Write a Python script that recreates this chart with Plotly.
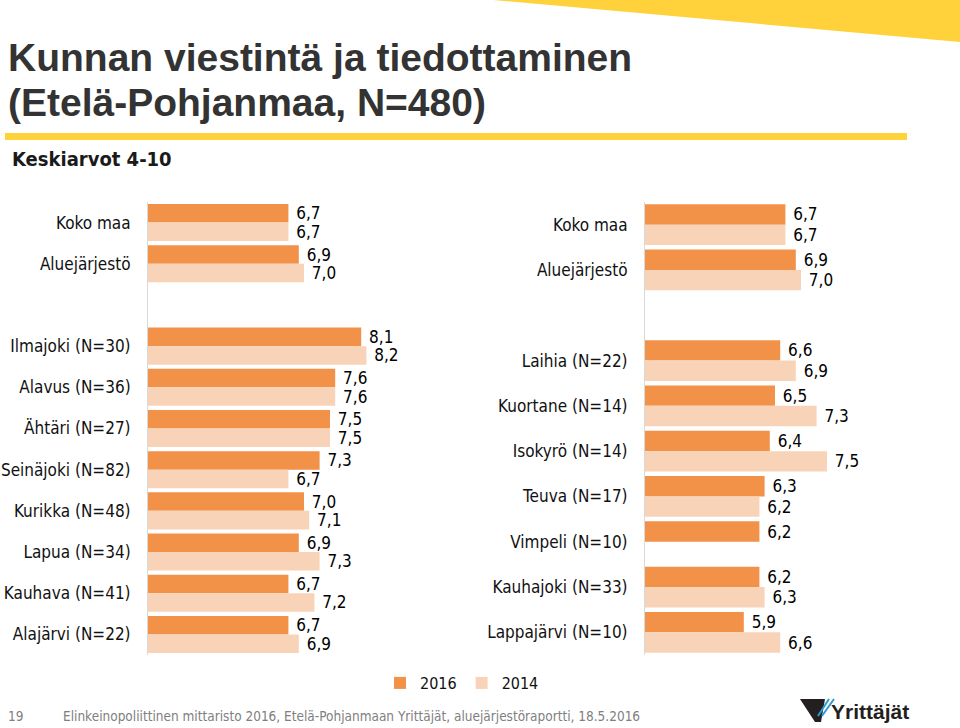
import plotly.graph_objects as go

# ---------------- data ----------------
left_categories = ["Koko maa", "Aluejärjestö", " ",
                   "Ilmajoki (N=30)", "Alavus (N=36)", "Ähtäri (N=27)",
                   "Seinäjoki (N=82)", "Kurikka (N=48)", "Lapua (N=34)",
                   "Kauhava (N=41)", "Alajärvi (N=22)"]
left_2016 = [6.7, 6.9, None, 8.1, 7.6, 7.5, 7.3, 7.0, 6.9, 6.7, 6.7]
left_2014 = [6.7, 7.0, None, 8.2, 7.6, 7.5, 6.7, 7.1, 7.3, 7.2, 6.9]

right_categories = ["Koko maa", "Aluejärjestö", " ",
                    "Laihia (N=22)", "Kuortane (N=14)", "Isokyrö (N=14)",
                    "Teuva (N=17)", "Vimpeli (N=10)", "Kauhajoki (N=33)",
                    "Lappajärvi (N=10)"]
right_2016 = [6.7, 6.9, None, 6.6, 6.5, 6.4, 6.3, 6.2, 6.2, 5.9]
right_2014 = [6.7, 7.0, None, 6.9, 7.3, 7.5, 6.2, None, 6.3, 6.6]

series_names = ["2016", "2014"]
axis_range = [4, 10]

# ---------------- styles ----------------
C2016 = "#F29148"
C2014 = "#F8D3B7"
FONT = "DejaVu Sans Condensed, DejaVu Sans, sans-serif"
TITLE_FONT = "Liberation Sans, Arial, sans-serif"
W, H = 960, 728


def px(x):
    return x / W


def py(y):
    return 1 - y / H


def lab(vals):
    return ["" if v is None else "\u00a0" + f"{v:.1f}".replace(".", ",") for v in vals]


fig = go.Figure()

for cats, v16, v14, xa, ya, show in [
    (left_categories, left_2016, left_2014, "x", "y", True),
    (right_categories, right_2016, right_2014, "x2", "y2", False),
]:
    for name, vals, col in [(series_names[0], v16, C2016), (series_names[1], v14, C2014)]:
        fig.add_trace(go.Bar(
            y=cats, x=vals, orientation="h", name=name,
            marker=dict(color=col, line=dict(width=0)),
            text=lab(vals), textposition="outside", constraintext="none",
            textfont=dict(family=FONT, size=17, color="#000000"),
            cliponaxis=False, xaxis=xa, yaxis=ya,
            showlegend=show, legendgroup=name, hoverinfo="skip",
        ))

ydom = [py(655), py(202)]
common_y = dict(type="category", autorange="reversed", showline=True,
                linecolor="#D9D9D9", linewidth=1, ticks="", showgrid=False,
                zeroline=False, ticklabelstandoff=13,
                tickfont=dict(family=FONT, size=17, color="#111111"))
common_x = dict(range=axis_range, visible=False, showgrid=False, zeroline=False)

fig.update_layout(
    width=W, height=H, margin=dict(l=0, r=0, t=0, b=0),
    paper_bgcolor="white", plot_bgcolor="white",
    barmode="group", bargap=0.1, bargroupgap=0,
    xaxis=dict(domain=[px(148), px(460)], anchor="y", **common_x),
    xaxis2=dict(domain=[px(645), px(957)], anchor="y2", **common_x),
    yaxis=dict(domain=ydom, anchor="x", categoryorder="array",
               categoryarray=left_categories, **common_y),
    yaxis2=dict(domain=ydom, anchor="x2", categoryorder="array",
                categoryarray=right_categories, **common_y),
    legend=dict(orientation="h", x=px(462), xanchor="center", y=py(683),
                yanchor="middle", font=dict(family=FONT, size=16, color="#111111"),
                itemwidth=30, traceorder="normal"),
    showlegend=True,
)

# decorative shapes
fig.add_shape(type="rect", xref="paper", yref="paper", x0=px(5), x1=px(907),
              y0=py(140), y1=py(133), fillcolor="#FFD23C", line=dict(width=0), layer="below")
fig.add_shape(type="path", xref="paper", yref="paper",
              path=f"M {px(493)} {py(0)} L {px(960)} {py(0)} L {px(960)} {py(42)} Z",
              fillcolor="#FFD23C", line=dict(width=0), layer="below")
# logo mark
fig.add_shape(type="path", xref="paper", yref="paper",
              path=f"M {px(800)} {py(699)} L {px(825)} {py(699)} L {px(821)} {py(722)} L {px(815)} {py(722)} Z",
              fillcolor="#231F20", line=dict(width=0))
for x0, x1 in [(829, 818), (834, 822)]:
    fig.add_shape(type="line", xref="paper", yref="paper",
                  x0=px(x0), y0=py(699), x1=px(x1), y1=py(716),
                  line=dict(color="#2E9AD0", width=2))

# texts
fig.add_annotation(text="<b>Kunnan viestintä ja tiedottaminen</b>", xref="paper", yref="paper",
                   x=px(6), y=py(58), xanchor="left", yanchor="middle", showarrow=False,
                   font=dict(family=TITLE_FONT, size=39, color="#333333"))
fig.add_annotation(text="<b>(Etelä-Pohjanmaa, N=480)</b>", xref="paper", yref="paper",
                   x=px(6), y=py(103), xanchor="left", yanchor="middle", showarrow=False,
                   font=dict(family=TITLE_FONT, size=39, color="#333333"))
fig.add_annotation(text="<b>Keskiarvot 4-10</b>", xref="paper", yref="paper",
                   x=px(10), y=py(159), xanchor="left", yanchor="middle", showarrow=False,
                   font=dict(family=FONT, size=20, color="#1A1A1A"))
fig.add_annotation(text="19", xref="paper", yref="paper",
                   x=px(6), y=py(716), xanchor="left", yanchor="middle", showarrow=False,
                   font=dict(family=FONT, size=13.5, color="#808080"))
fig.add_annotation(text="Elinkeinopoliittinen mittaristo 2016, Etelä-Pohjanmaan Yrittäjät, aluejärjestöraportti, 18.5.2016",
                   xref="paper", yref="paper",
                   x=px(61), y=py(716), xanchor="left", yanchor="middle", showarrow=False,
                   font=dict(family=FONT, size=13.5, color="#808080"))
fig.add_annotation(text="<b>Yrittäjät</b>", xref="paper", yref="paper",
                   x=px(829), y=py(711), xanchor="left", yanchor="middle", showarrow=False,
                   font=dict(family=TITLE_FONT, size=21, color="#231F20"))

fig.write_html(
    "out.html",
    config={"displayModeBar": False},
    post_script="document.body.style.margin='0';document.body.style.padding='0';"
                "document.body.style.overflow='hidden';",
)
